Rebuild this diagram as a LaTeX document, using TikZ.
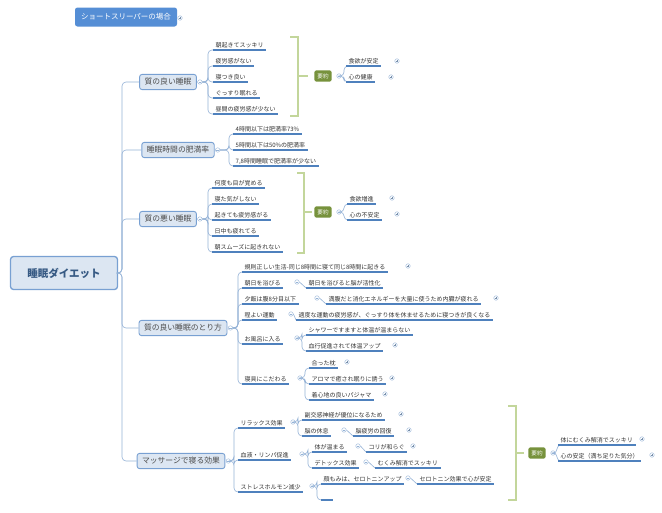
\documentclass[tikz,border=0pt]{standalone}
\usepackage{fontspec}
\setmainfont{Noto Sans CJK JP}
\definecolor{cl}{RGB}{149,179,215}
\definecolor{ul}{RGB}{79,129,189}
\definecolor{bf}{RGB}{220,230,242}
\definecolor{bd}{RGB}{120,160,210}
\definecolor{tb}{RGB}{85,142,213}
\definecolor{gn}{RGB}{119,146,60}
\definecolor{gb}{RGB}{195,214,155}
\begin{document}
\begin{tikzpicture}[x=1pt,y=-1pt,
 conn/.style={draw=cl, line width=0.6pt, rounded corners=4pt},
 leaf/.style={anchor=south west, inner xsep=2.5pt, inner ysep=1.4pt, font=\fontsize{6}{6.5}\selectfont, text=black!80},
 br/.style={draw=bd, fill=bf, rounded corners=2.5pt, line width=0.9pt, inner xsep=5pt, inner ysep=4pt, font=\fontsize{7.8}{9}\selectfont, text=black!70},
 sum/.style={fill=gn, rounded corners=2pt, text=white, font=\fontsize{5.6}{6}\selectfont\itshape, inner sep=3pt},
 brk/.style={draw=gb, line width=1.5pt},
 tg/.style={circle, draw=cl, fill=white, inner sep=0pt, minimum size=4.5pt, line width=0.4pt},
 mn/.style={tg, path picture={\draw[cl,line width=0.4pt] ([xshift=-1.3pt]path picture bounding box.center)--([xshift=1.3pt]path picture bounding box.center);}},
 pl/.style={tg, path picture={\draw[cl!80!black,line width=0.4pt] ([xshift=-1.3pt]path picture bounding box.center)--([xshift=1.3pt]path picture bounding box.center) ([yshift=-1.3pt]path picture bounding box.center)--([yshift=1.3pt]path picture bounding box.center);}}
]
\useasboundingbox (0,0) rectangle (662,512);
\fill[white] (0,0) rectangle (662,512);
% title
\node[fill=tb, rounded corners=2.5pt, text=white, font=\fontsize{7.5}{8}\selectfont, minimum width=102pt, minimum height=19pt] (title) at (126,17) {ショートスリーパーの場合};
\node[pl] (titlep) at (180,18) {};
% root
\node[draw=bd, fill=bf, rounded corners=3pt, line width=1.3pt, minimum width=107pt, minimum height=33pt, font=\fontsize{10.5}{11}\selectfont\bfseries, text=ul!70!black] (root) at (64,273) {睡眠ダイエット};
% branches
\node[br] (b1) at (168,82) {質の良い睡眠};
\node[br] (b2) at (178,150) {睡眠時間の肥満率};
\node[br] (b3) at (168,219) {質の悪い睡眠};
\node[br] (b4) at (183,328) {質の良い睡眠のとり方};
\node[br] (b5) at (181,461) {マッサージで寝る効果};
\foreach \b in {b1,b2,b3,b4,b5} {\draw[conn] (root.east) -- (122,273) |- (\b.west);}
\foreach \b in {b1,b2,b3,b4,b5} {\node[mn] (\b m) at ([xshift=3pt]\b.east) {};}
% branch1
\node[leaf] (a1) at (213,50) {朝起きてスッキリ};
\node[leaf] (a2) at (213,66) {疲労感がない};
\node[leaf] (a3) at (213,82) {寝つき良い};
\node[leaf] (a4) at (213,98) {ぐっすり眠れる};
\node[leaf] (a5) at (213,114) {昼間の疲労感が少ない};
\foreach \c in {a1,a2,a3,a4,a5} {\draw[conn] (b1m.east) -- (208,82) |- (\c.south west);}
\draw[brk] (290,37) -- (298,37) -- (298,116) -- (290,116) (298,76) -- (308,76);
\node[sum] (s1) at (323,76) {要約};
\node[mn] (s1m) at (339,76) {};
\node[leaf] (a6) at (346,66) {食欲が安定};
\node[leaf] (a7) at (346,82) {心の健康};
\foreach \c in {a6,a7} {\draw[conn] (s1m.east) -- (344,76) |- (\c.south west);}
\node[pl] at (397,61) {};
\node[pl] at (391,77) {};
% branch2
\node[leaf] (c1) at (233,134) {4時間以下は肥満率73\%};
\node[leaf] (c2) at (233,150) {5時間以下は50\%の肥満率};
\node[leaf] (c3) at (233,166) {7,8時間睡眠で肥満率が少ない};
\foreach \c in {c1,c2,c3} {\draw[conn] (b2m.east) -- (229,150) |- (\c.south west);}
% branch3
\node[leaf] (d1) at (212,188) {何度も目が覚める};
\node[leaf] (d2) at (212,204) {寝た気がしない};
\node[leaf] (d3) at (212,220) {起きても疲労感がる};
\node[leaf] (d4) at (212,236) {日中も疲れてる};
\node[leaf] (d5) at (212,252) {朝スムーズに起きれない};
\foreach \c in {d1,d2,d3,d4,d5} {\draw[conn] (b3m.east) -- (208,219) |- (\c.south west);}
\draw[brk] (297,173) -- (304,173) -- (304,253) -- (297,253) (304,212) -- (312,212);
\node[sum] (s2) at (323,212) {要約};
\node[mn] (s2m) at (339,212) {};
\node[leaf] (d6) at (347,204) {食欲増進};
\node[leaf] (d7) at (347,220) {心の不安定};
\foreach \c in {d6,d7} {\draw[conn] (s2m.east) -- (344,212) |- (\c.south west);}
\node[pl] at (392,198) {};
\node[pl] at (397,214) {};
% branch4
\node[leaf] (e1) at (242,272) {規則正しい生活-同じ8時間に寝て同じ8時間に起きる};
\node[pl] at (408,266) {};
\node[leaf] (e2) at (242,288) {朝日を浴びる};
\node[mn] (e2m) at (297,282) {};
\node[leaf] (e2a) at (306,288) {朝日を浴びると脳が活性化};
\node[leaf] (e3) at (242,304) {夕飯は腹8分目以下};
\node[mn] (e3m) at (317,298) {};
\node[leaf] (e3a) at (326,304) {満腹だと消化エネルギーを大量に使うため内臓が疲れる};
\node[pl] at (496,298) {};
\node[leaf] (e4) at (242,320) {程よい運動};
\node[mn] (e4m) at (291,314) {};
\node[leaf] (e4a) at (296,320) {適度な運動の疲労感が、ぐっすり体を休ませるために寝つきが良くなる};
\node[leaf] (e5) at (242,344) {お風呂に入る};
\node[mn] (e5m) at (297,338) {};
\node[leaf] (e5a) at (306,335) {シャワーですますと体温が温まらない};
\node[leaf] (e5b) at (306,351) {血行促進されて体温アップ};
\node[pl] at (395,345) {};
\node[leaf] (e6) at (242,384) {寝具にこだわる};
\node[mn] (e6m) at (300,378) {};
\node[leaf] (e6a) at (309,368) {合った枕};
\node[pl] at (347,362) {};
\node[leaf] (e6b) at (309,384) {アロマで癒され眠りに誘う};
\node[pl] at (392,378) {};
\node[leaf] (e6c) at (309,400) {着心地の良いパジャマ};
\node[pl] at (385,394) {};
\foreach \c in {e1,e2,e3,e4,e5,e6} {\draw[conn] (b4m.east) -- (238,328) |- (\c.south west);}
\draw[conn] (e2m.east) -- (e2a.south west);
\draw[conn] (e3m.east) -- (e3a.south west);
\draw[conn] (e4m.east) -- (e4a.south west);
\foreach \c in {e5a,e5b} {\draw[conn] (e5m.east) -- (302,338) |- (\c.south west);}
\foreach \c in {e6a,e6b,e6c} {\draw[conn] (e6m.east) -- (305,378) |- (\c.south west);}
% branch5
\node[leaf] (f1) at (238,428) {リラックス効果};
\node[mn] (f1m) at (293,422) {};
\node[leaf] (f1a) at (302,420) {副交感神経が優位になるため};
\node[pl] at (401,414) {};
\node[leaf] (f1b) at (302,436) {脳の休息};
\node[mn] (f1bm) at (344,430) {};
\node[leaf] (f1c) at (353,436) {脳疲労の回復};
\node[pl] at (409,430) {};
\node[leaf] (f2) at (238,460) {血液・リンパ促進};
\node[mn] (f2m) at (302,454) {};
\node[leaf] (f2a) at (312,452) {体が温まる};
\node[mn] (f2am) at (358,446) {};
\node[leaf] (f2c) at (366,452) {コリが和らぐ};
\node[pl] at (413,446) {};
\node[leaf] (f2b) at (312,468) {デトックス効果};
\node[mn] (f2bm) at (366,462) {};
\node[leaf] (f2d) at (375,468) {むくみ解消でスッキリ};
\node[leaf] (f3) at (238,492) {ストレスホルモン減少};
\node[mn] (f3m) at (312,486) {};
\node[leaf] (f3a) at (321,484) {顔もみは、セロトニンアップ};
\node[mn] (f3am) at (408,478) {};
\node[leaf] (f3c) at (417,484) {セロトニン効果で心が安定};
\node[leaf, minimum width=12pt] (f3b) at (321,500) {};
\foreach \c in {f1,f2,f3} {\draw[conn] (b5m.east) -- (234,461) |- (\c.south west);}
\foreach \c in {f1a,f1b} {\draw[conn] (f1m.east) -- (298,422) |- (\c.south west);}
\foreach \c in {f2a,f2b} {\draw[conn] (f2m.east) -- (308,454) |- (\c.south west);}
\foreach \c in {f3a,f3b} {\draw[conn] (f3m.east) -- (317,486) |- (\c.south west);}
\draw[conn] (f1bm.east) -- (f1c.south west);
\draw[conn] (f2am.east) -- (f2c.south west);
\draw[conn] (f2bm.east) -- (f2d.south west);
\draw[conn] (f3am.east) -- (f3c.south west);
\draw[brk] (508,406) -- (516,406) -- (516,500) -- (508,500) (516,453) -- (524,453);
\node[sum] (s3) at (537,453) {要約};
\node[mn] (s3m) at (553,453) {};
\node[leaf] (g1) at (558,445) {体にむくみ解消でスッキリ};
\node[pl] at (642,439) {};
\node[leaf] (g2) at (558,461) {心の安定（満ち足りた気分）};
\node[pl] at (652,455) {};
\foreach \c in {g1,g2} {\draw[conn] (s3m.east) -- (557,453) |- (\c.south west);}
% underlines
\foreach \c in {a1,a2,a3,a4,a5,a6,a7,c1,c2,c3,d1,d2,d3,d4,d5,d6,d7,e1,e2,e2a,e3,e3a,e4,e4a,e5,e5a,e5b,e6,e6a,e6b,e6c,f1,f1a,f1b,f1c,f2,f2a,f2b,f2c,f2d,f3,f3a,f3b,f3c,g1,g2}
  {\draw[ul, line width=1.1pt] (\c.south west) -- (\c.south east);}
\end{tikzpicture}
\end{document}
